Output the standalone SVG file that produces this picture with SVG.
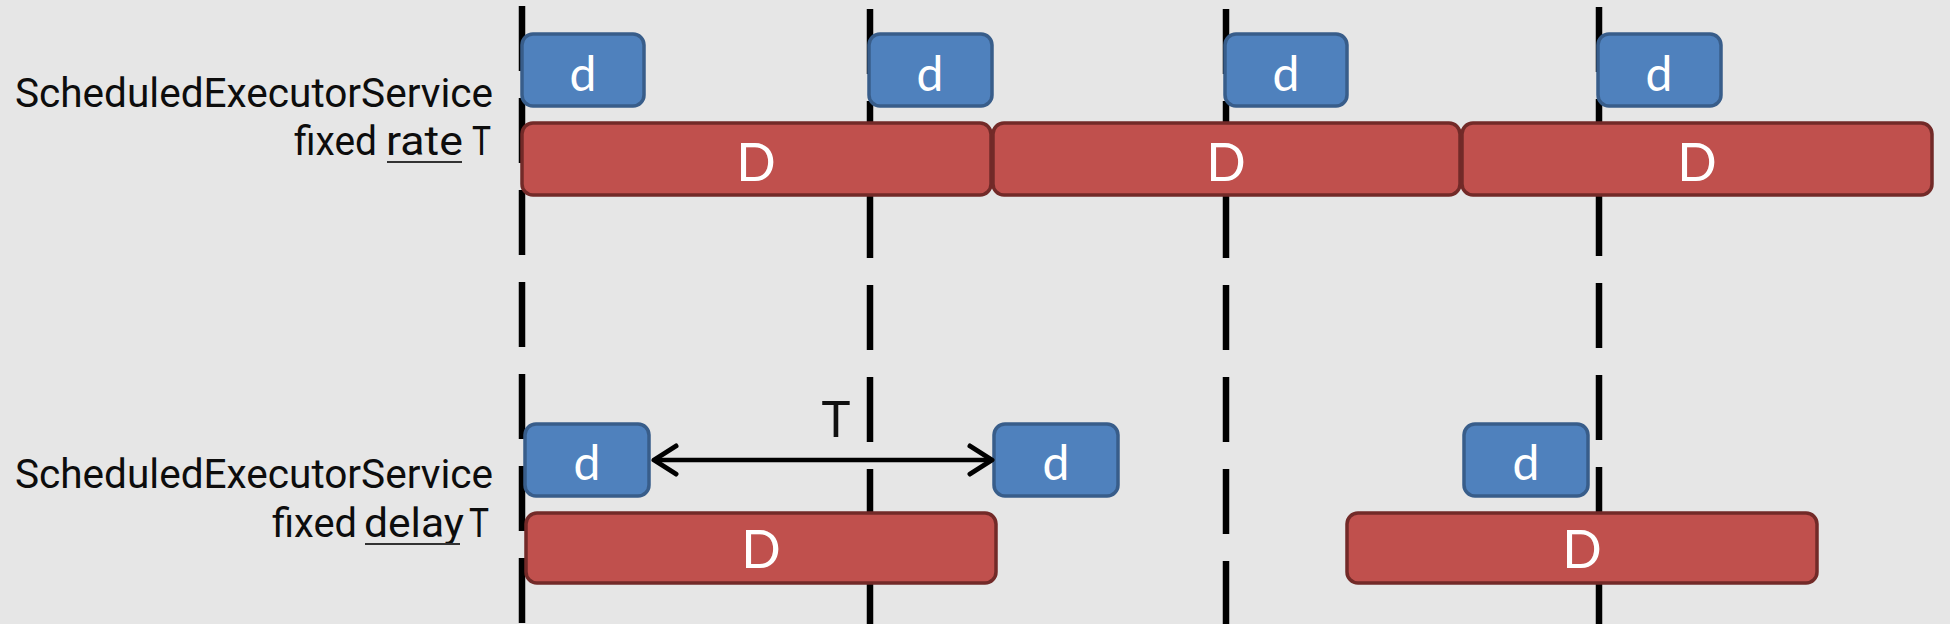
<svg xmlns="http://www.w3.org/2000/svg" width="1950" height="624" viewBox="0 0 1950 624">
  <style>
    .bg { fill: #e6e6e6; }
    .tl { stroke: #000; stroke-width: 6.5; stroke-dasharray: 65 27; fill: none; }
    .small rect { fill: #4f81bd; stroke: #385d8a; stroke-width: 3.5; }
    .big rect { fill: #c0504d; stroke: #722a28; stroke-width: 3.5; }
    .small text { font-family: Lato, "Open Sans", "Liberation Sans", sans-serif; font-size: 48px; fill: #fff; text-anchor: middle; }
    .big text { font-family: Lato, "Open Sans", "Liberation Sans", sans-serif; font-size: 52px; fill: #fff; text-anchor: middle; }
    .lbl { font-family: Roboto, "Liberation Sans", sans-serif; font-size: 41px; font-weight: 400; fill: #0d0d0d; }
    .ul { stroke: #333; stroke-width: 2.2; }
    .conn { stroke: #000; stroke-width: 4.5; fill: none; }
  </style>
  <defs>
    <marker id="chev" viewBox="-28 -20 32 40" refX="0" refY="0" markerWidth="32" markerHeight="40" markerUnits="userSpaceOnUse" orient="auto-start-reverse">
      <path d="M-22,-14 L0,0 L-22,14" fill="none" stroke="#000" stroke-width="5" stroke-linecap="round" stroke-linejoin="round"/>
    </marker>
  </defs>
  <rect class="bg" x="0" y="0" width="1950" height="624"/>

  <g id="timelines">
    <line class="tl" x1="522" y1="6" x2="522" y2="624"/>
    <line class="tl" x1="870" y1="9" x2="870" y2="624"/>
    <line class="tl" x1="1226" y1="9" x2="1226" y2="624"/>
    <line class="tl" x1="1599" y1="7" x2="1599" y2="624"/>
  </g>

  <g id="label-rate">
    <text class="lbl" x="15" y="107" textLength="478" lengthAdjust="spacingAndGlyphs">ScheduledExecutorService</text>
    <text class="lbl" x="294" y="155" textLength="83" lengthAdjust="spacingAndGlyphs">fixed</text>
    <text class="lbl" x="386" y="155" textLength="77" lengthAdjust="spacingAndGlyphs">rate</text>
    <line class="ul" x1="387" y1="162" x2="462" y2="162"/>
    <text class="lbl" x="472" y="155" textLength="19" lengthAdjust="spacingAndGlyphs">T</text>
  </g>

  <g id="label-delay">
    <text class="lbl" x="15" y="488" textLength="478" lengthAdjust="spacingAndGlyphs">ScheduledExecutorService</text>
    <text class="lbl" x="272" y="537" textLength="85" lengthAdjust="spacingAndGlyphs">fixed</text>
    <text class="lbl" x="364" y="537" textLength="100" lengthAdjust="spacingAndGlyphs">delay</text>
    <line class="ul" x1="365" y1="544" x2="460" y2="544"/>
    <text class="lbl" x="469" y="537" textLength="20" lengthAdjust="spacingAndGlyphs">T</text>
  </g>

  <g id="rate-d1" class="small"><rect x="522" y="34" width="122" height="72" rx="11"/><text x="583" y="91">d</text></g>
  <g id="rate-d2" class="small"><rect x="869" y="34" width="123" height="72" rx="11"/><text x="930" y="91">d</text></g>
  <g id="rate-d3" class="small"><rect x="1225" y="34" width="122" height="72" rx="11"/><text x="1286" y="91">d</text></g>
  <g id="rate-d4" class="small"><rect x="1598" y="34" width="123" height="72" rx="11"/><text x="1659" y="91">d</text></g>

  <g id="rate-D1" class="big"><rect x="522" y="123" width="469" height="72" rx="11"/><text x="756" y="181">D</text></g>
  <g id="rate-D2" class="big"><rect x="993" y="123" width="467" height="72" rx="11"/><text x="1226" y="181">D</text></g>
  <g id="rate-D3" class="big"><rect x="1462" y="123" width="470" height="72" rx="11"/><text x="1697" y="181">D</text></g>

  <g id="delay-d1" class="small"><rect x="525" y="424" width="124" height="72" rx="11"/><text x="587" y="480">d</text></g>
  <g id="delay-d2" class="small"><rect x="994" y="424" width="124" height="72" rx="11"/><text x="1056" y="480">d</text></g>
  <g id="delay-d3" class="small"><rect x="1464" y="424" width="124" height="72" rx="11"/><text x="1526" y="480">d</text></g>

  <g id="delay-D1" class="big"><rect x="526" y="513" width="470" height="70" rx="11"/><text x="761" y="568">D</text></g>
  <g id="delay-D2" class="big"><rect x="1347" y="513" width="470" height="70" rx="11"/><text x="1582" y="568">D</text></g>

  <g id="connectors">
    <line class="conn" x1="654" y1="460" x2="992" y2="460" marker-start="url(#chev)" marker-end="url(#chev)"/>
    <text x="836" y="437" font-family="Roboto, 'Liberation Sans', sans-serif" font-size="50" fill="#111" text-anchor="middle">T</text>
  </g>
</svg>
